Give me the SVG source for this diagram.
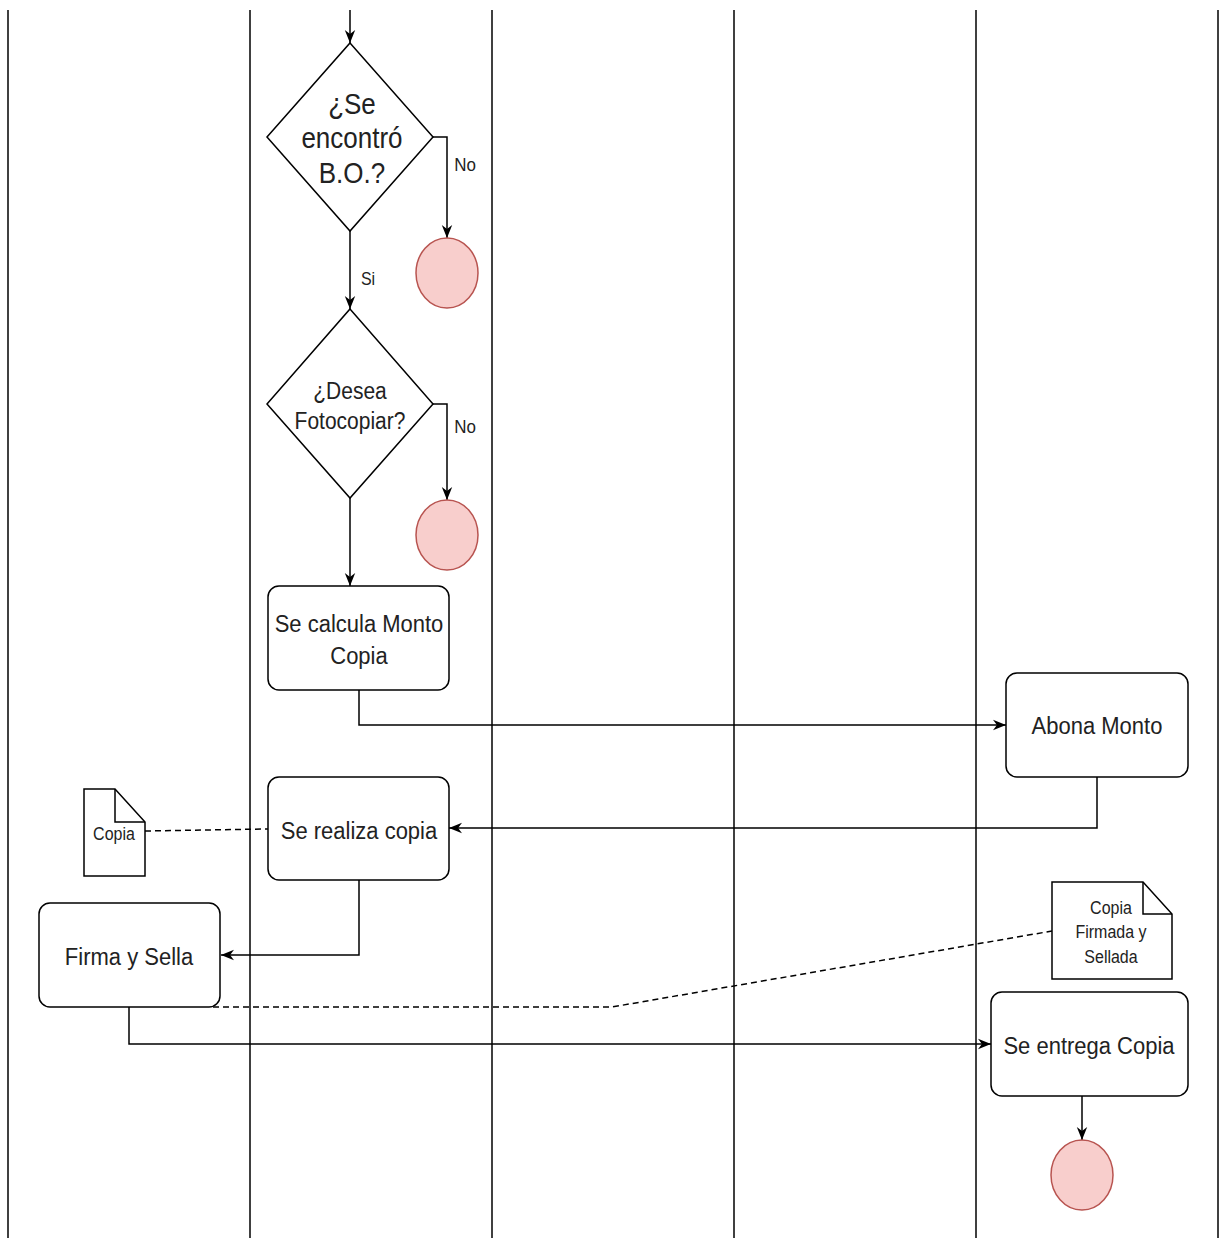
<svg xmlns="http://www.w3.org/2000/svg" width="1224" height="1238" viewBox="0 0 1224 1238">
  <style>
    .lane { stroke: #000; stroke-width: 1.5; fill: none; }
    .box { fill: #fff; stroke: #000; stroke-width: 1.5; }
    .end { fill: #f8cecc; stroke: #b85450; stroke-width: 1.5; }
    .edge { fill: none; stroke: #000; stroke-width: 1.5; }
    .dash { fill: none; stroke: #000; stroke-width: 1.5; stroke-dasharray: 6 4; }
    text { font-family: "Liberation Sans", Arial, sans-serif; fill: #222; text-anchor: middle;
           transform-box: fill-box; transform-origin: center; transform: scaleY(1.12); }
    .t22 { font-size: 22px; }
    .t26 { font-size: 26px; }
    .t21 { font-size: 21px; }
    .t17 { font-size: 17px; }
    .t16 { font-size: 16px; }
  </style>
  <defs>
    <marker id="arr" viewBox="0 0 10 10" refX="10" refY="5" markerWidth="13" markerHeight="13" markerUnits="userSpaceOnUse" orient="auto">
      <path d="M0,1 L10,5 L0,9 L3,5 z" fill="#000"/>
    </marker>
  </defs>

  <rect width="1224" height="1238" fill="#fff"/>

  <!-- swimlane separators -->
  <g id="lanes">
    <line class="lane" x1="8" y1="10" x2="8" y2="1238"/>
    <line class="lane" x1="250" y1="10" x2="250" y2="1238"/>
    <line class="lane" x1="492" y1="10" x2="492" y2="1238"/>
    <line class="lane" x1="734" y1="10" x2="734" y2="1238"/>
    <line class="lane" x1="976" y1="10" x2="976" y2="1238"/>
    <line class="lane" x1="1218" y1="10" x2="1218" y2="1238"/>
  </g>

  <!-- connectors -->
  <g id="connectors">
    <line class="edge" x1="350" y1="10" x2="350" y2="43" marker-end="url(#arr)"/>
    <line class="edge" x1="350" y1="231" x2="350" y2="309" marker-end="url(#arr)"/>
    <path class="edge" d="M433,137 H447 V238" marker-end="url(#arr)"/>
    <path class="edge" d="M433,404 H447 V500" marker-end="url(#arr)"/>
    <line class="edge" x1="350" y1="498" x2="350" y2="586" marker-end="url(#arr)"/>
    <path class="edge" d="M359,690 V725 H1006" marker-end="url(#arr)"/>
    <path class="edge" d="M1097,777 V828 H449" marker-end="url(#arr)"/>
    <path class="edge" d="M359,880 V955 H221" marker-end="url(#arr)"/>
    <path class="edge" d="M129,1007 V1044 H991" marker-end="url(#arr)"/>
    <line class="edge" x1="1082" y1="1096" x2="1082" y2="1140" marker-end="url(#arr)"/>
    <line class="dash" x1="145" y1="831" x2="268" y2="829"/>
    <path class="dash" d="M213,1007 H612 L1052,931"/>
    <!-- edge labels -->
    <rect x="448" y="150" width="30" height="27" fill="#fff"/>
    <text class="t17" x="465" y="170">No</text>
    <rect x="448" y="412" width="30" height="26" fill="#fff"/>
    <text class="t17" x="465" y="432">No</text>
    <text class="t16" x="368" y="284">Si</text>
  </g>

  <g id="dec-encontro">
    <polygon class="box" points="350,43 433,137 350,231 267,137"/>
    <text class="t26" x="352" y="113">¿Se</text>
    <text class="t26" x="352" y="147">encontró</text>
    <text class="t26" x="352" y="182">B.O.?</text>
  </g>
  <g id="end-1">
    <ellipse class="end" cx="447" cy="273" rx="31" ry="35"/>
  </g>

  <g id="dec-fotocopiar">
    <polygon class="box" points="350,309 433,404 350,498 267,404"/>
    <text class="t21" x="350" y="398">¿Desea</text>
    <text class="t21" x="350" y="428">Fotocopiar?</text>
  </g>
  <g id="end-2">
    <ellipse class="end" cx="447" cy="535" rx="31" ry="35"/>
  </g>

  <g id="calcula-monto">
    <rect class="box" x="268" y="586" width="181" height="104" rx="11"/>
    <text class="t22" x="359" y="631">Se calcula Monto</text>
    <text class="t22" x="359" y="663">Copia</text>
  </g>

  <g id="abona-monto">
    <rect class="box" x="1006" y="673" width="182" height="104" rx="11"/>
    <text class="t22" x="1097" y="733">Abona Monto</text>
  </g>

  <g id="realiza-copia">
    <rect class="box" x="268" y="777" width="181" height="103" rx="11"/>
    <text class="t22" x="359" y="838">Se realiza copia</text>
  </g>

  <g id="doc-copia">
    <path class="box" d="M84,789 H115 L145,822 V876 H84 Z"/>
    <path class="edge" d="M115,789 V822 H145"/>
    <text class="t16" x="114" y="839">Copia</text>
  </g>

  <g id="firma-sella">
    <rect class="box" x="39" y="903" width="181" height="104" rx="11"/>
    <text class="t22" x="129" y="964">Firma y Sella</text>
  </g>

  <g id="doc-copia-firmada">
    <path class="box" d="M1052,882 H1143 L1172,914 V979 H1052 Z"/>
    <path class="edge" d="M1143,882 V914 H1172"/>
    <text class="t16" x="1111" y="913">Copia</text>
    <text class="t16" x="1111" y="937">Firmada y</text>
    <text class="t16" x="1111" y="962">Sellada</text>
  </g>

  <g id="entrega-copia">
    <rect class="box" x="991" y="992" width="197" height="104" rx="11"/>
    <text class="t22" x="1089" y="1053">Se entrega Copia</text>
  </g>

  <g id="end-3">
    <ellipse class="end" cx="1082" cy="1175" rx="31" ry="35"/>
  </g>
</svg>
